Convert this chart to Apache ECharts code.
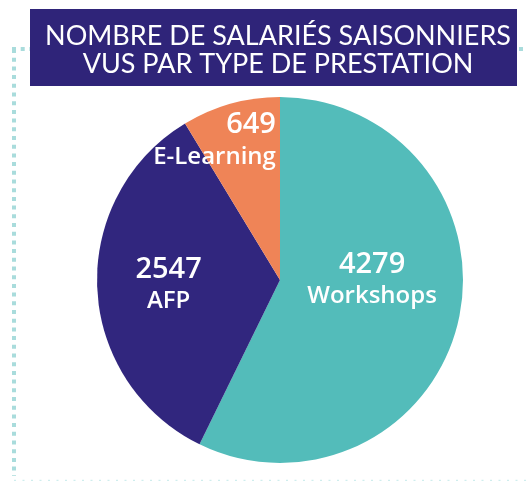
<!DOCTYPE html>
<html><head><meta charset="utf-8">
<script src="https://cdn.jsdelivr.net/npm/echarts@6/dist/echarts.min.js"></script>
<style>html,body{margin:0;padding:0;background:#fff}#c{width:526px;height:481px}</style>
</head><body><div id="c"></div>
<script>
const titleLines = ['NOMBRE DE SALARIÉS SAISONNIERS', 'VUS PAR TYPE DE PRESTATION'];
const categories = ['Workshops', 'AFP', 'E-Learning'];
const values = [4279, 2547, 649];
const colors = ['#53bcba', '#31267e', '#ef8457'];
const labelOffsets = [[0, -22], [-17, 0], [-40, -49]];
const lineAligns = ['center', 'center', 'right'];

const chart = echarts.init(document.getElementById('c'));
const data = categories.map((c, i) => ({
  name: c, value: values[i],
  itemStyle: { color: colors[i] },
  label: {
    offset: labelOffsets[i],
    rich: {
      v: { color: '#fff', fontFamily: 'Open Sans', fontWeight: 600, fontSize: 29, lineHeight: 34, align: lineAligns[i] },
      n: { color: '#fff', fontFamily: 'Open Sans', fontWeight: 600, fontSize: 24, lineHeight: 30, align: lineAligns[i] }
    }
  }
}));

const dots = [];
dots.push({ type: 'line', shape: { x1: 14, y1: 49, x2: 14, y2: 476 },
  style: { stroke: '#a9dcdc', lineWidth: 4, lineDash: [4, 4.7], lineCap: 'butt' } });
dots.push({ type: 'line', shape: { x1: 12, y1: 49, x2: 30, y2: 49 },
  style: { stroke: '#a9dcdc', lineWidth: 4, lineDash: [4, 4.7] } });
dots.push({ type: 'line', shape: { x1: 519, y1: 49, x2: 526, y2: 49 },
  style: { stroke: '#a9dcdc', lineWidth: 4, lineDash: [4, 4.7] } });
dots.push({ type: 'line', shape: { x1: 14, y1: 480.5, x2: 526, y2: 480.5 },
  style: { stroke: '#cfeded', lineWidth: 1.5, lineDash: [2, 6.5] } });

chart.setOption({
  animation: false,
  title: {
    text: titleLines.join('\n'),
    left: 273, top: 17, textAlign: 'center',
    textStyle: { color: '#ffffff', fontFamily: 'Lato', fontWeight: 'normal', fontSize: 27, lineHeight: 28 }
  },
  graphic: [
    { type: 'rect', z: -1, shape: { x: 30, y: 9, width: 487, height: 77 }, style: { fill: '#2f2479' } },
    ...dots
  ],
  series: [{
    type: 'pie',
    center: [280, 280],
    radius: [0, 183],
    startAngle: 90,
    clockwise: true,
    data: data,
    label: {
      show: true, position: 'inside',
      formatter: p => '{v|' + p.value + '}\n{n|' + p.name + '}'
    },
    labelLine: { show: false },
    emphasis: { disabled: true }
  }]
});
</script></body></html>
